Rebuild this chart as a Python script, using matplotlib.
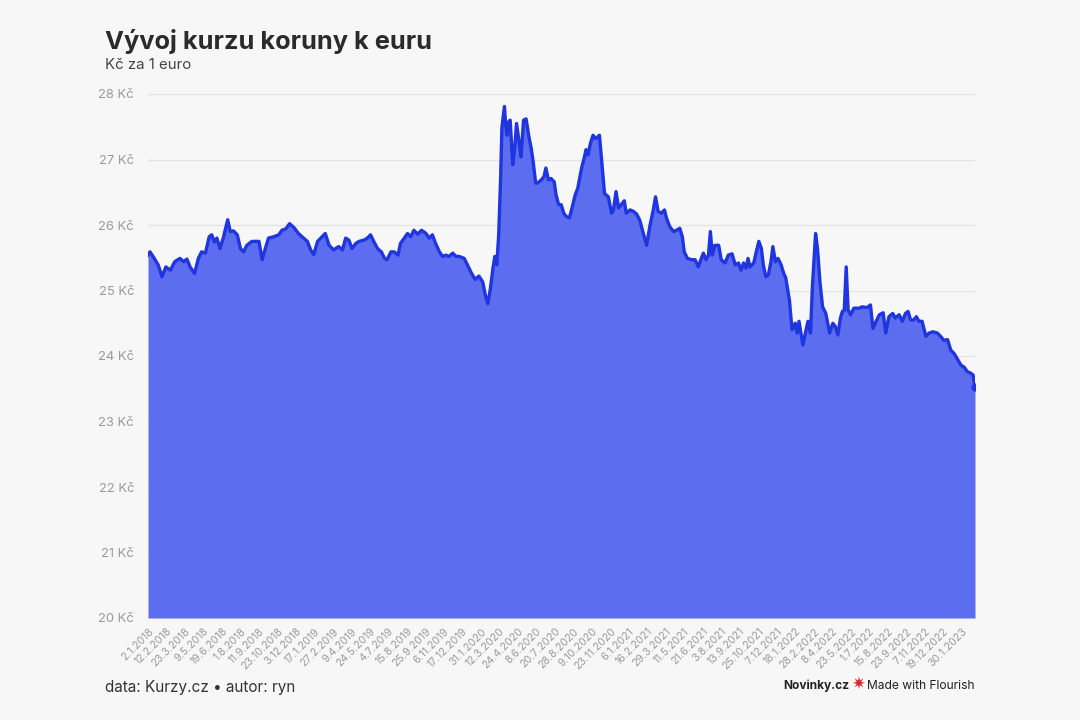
import matplotlib
matplotlib.use("Agg")
import matplotlib.pyplot as plt
import numpy as np

plt.rcParams['font.family'] = ['Inter', 'DejaVu Sans']

title = "Vývoj kurzu koruny k euru"
subtitle = "Kč za 1 euro"
source = "data: Kurzy.cz • autor: ryn"

# trading-day index (0 = 2.1.2018) and EUR/CZK rate
trading_day = [0, 3, 8, 16, 22, 28, 35, 42, 50, 56, 61, 66, 73, 79, 84, 90, 96, 100, 104, 108,
               113, 118, 121, 125, 129, 134, 140, 145, 150, 155, 163, 174, 179, 184, 189, 197,
               205, 210, 216, 222, 229, 236, 244, 250, 255, 260, 266, 273, 278, 284, 291, 299,
               305, 310, 315, 320, 326, 331, 339, 344, 349, 354, 360, 366, 371, 375, 381, 386,
               392, 396, 402, 407, 412, 417, 423, 429, 436, 441, 446, 451, 457, 462, 467, 472,
               478, 483, 488, 496, 501, 507, 513, 519, 525, 529, 533, 537, 541, 544, 547, 550,
               553, 555, 559, 561, 563, 566, 568, 572, 575, 578, 582, 585, 589, 593, 597, 601,
               604, 608, 611, 617, 621, 624, 628, 632, 637, 640, 644, 648, 652, 656, 661, 665,
               670, 674, 680, 684, 687, 690, 694, 698, 702, 706, 708, 713, 716, 722, 727, 730,
               734, 738, 742, 747, 750, 756, 761, 766, 771, 777, 782, 787, 792, 796, 800, 805,
               810, 813, 818, 824, 829, 834, 838, 841, 846, 853, 858, 863, 867, 871, 875, 879,
               882, 885, 889, 895, 899, 905, 910, 916, 921, 926, 930, 934, 938, 941, 944, 950,
               954, 958, 962, 965, 969, 973, 977, 980, 984, 988, 993, 997, 1000, 1006, 1010,
               1015, 1018, 1021, 1027, 1032, 1035, 1039, 1042, 1047, 1050, 1054, 1058, 1063,
               1069, 1074, 1078, 1082, 1086, 1089, 1092, 1095, 1098, 1102, 1107, 1115, 1120,
               1128, 1133, 1137, 1142, 1147, 1153, 1157, 1162, 1168, 1172, 1178, 1183, 1188,
               1192, 1196, 1201, 1205, 1209, 1214, 1220, 1225, 1231, 1238, 1243, 1248, 1254,
               1259, 1264, 1269, 1275, 1280, 1285, 1290, 1294, 1297]

rate = [25.54, 25.59, 25.52, 25.39, 25.21, 25.36, 25.31, 25.44, 25.49, 25.44, 25.48, 25.36,
        25.26, 25.49, 25.59, 25.57, 25.82, 25.85, 25.74, 25.80, 25.64, 25.80, 25.92, 26.08,
        25.90, 25.91, 25.85, 25.64, 25.59, 25.69, 25.75, 25.75, 25.47, 25.64, 25.80, 25.82,
        25.85, 25.92, 25.94, 26.02, 25.96, 25.87, 25.80, 25.75, 25.62, 25.55, 25.75, 25.82,
        25.87, 25.69, 25.62, 25.67, 25.62, 25.80, 25.77, 25.64, 25.72, 25.75, 25.77, 25.80,
        25.85, 25.75, 25.64, 25.59, 25.49, 25.47, 25.59, 25.59, 25.54, 25.72, 25.80, 25.87,
        25.82, 25.92, 25.86, 25.92, 25.87, 25.80, 25.85, 25.72, 25.59, 25.52, 25.54, 25.52,
        25.57, 25.52, 25.52, 25.49, 25.39, 25.27, 25.17, 25.22, 25.13, 24.93, 24.80, 25.03,
        25.34, 25.52, 25.39, 25.85, 26.71, 27.48, 27.81, 27.53, 27.37, 27.58, 27.60, 26.92,
        27.17, 27.55, 27.27, 27.04, 27.60, 27.62, 27.37, 27.17, 26.97, 26.64, 26.64, 26.69,
        26.74, 26.87, 26.69, 26.71, 26.66, 26.46, 26.31, 26.31, 26.18, 26.13, 26.11, 26.26,
        26.46, 26.56, 26.87, 27.02, 27.15, 27.07, 27.25, 27.37, 27.32, 27.35, 27.37, 26.82,
        26.48, 26.43, 26.18, 26.23, 26.51, 26.26, 26.31, 26.37, 26.18, 26.23, 26.21, 26.17,
        26.08, 25.87, 25.69, 25.98, 26.21, 26.43, 26.21, 26.18, 26.23, 26.11, 25.98, 25.90,
        25.92, 25.95, 25.82, 25.59, 25.49, 25.47, 25.47, 25.36, 25.47, 25.57, 25.47, 25.54,
        25.90, 25.54, 25.69, 25.69, 25.47, 25.42, 25.54, 25.56, 25.39, 25.42, 25.31, 25.42,
        25.34, 25.49, 25.36, 25.42, 25.59, 25.75, 25.64, 25.39, 25.21, 25.24, 25.44, 25.67,
        25.44, 25.49, 25.39, 25.26, 25.20, 24.85, 24.40, 24.50, 24.35, 24.53, 24.17, 24.40,
        24.53, 24.35, 25.06, 25.87, 25.64, 25.11, 24.75, 24.65, 24.35, 24.50, 24.45, 24.32,
        24.58, 24.68, 24.70, 25.36, 24.70, 24.63, 24.73, 24.73, 24.75, 24.74, 24.78, 24.42,
        24.53, 24.63, 24.66, 24.35, 24.60, 24.65, 24.58, 24.63, 24.53, 24.65, 24.68, 24.55,
        24.55, 24.60, 24.53, 24.53, 24.30, 24.35, 24.37, 24.35, 24.30, 24.24, 24.25, 24.09,
        24.04, 23.96, 23.86, 23.83, 23.76, 23.74, 23.71, 23.53]

tick_labels = ["2.1.2018", "12.2.2018", "23.3.2018", "9.5.2018", "19.6.2018", "1.8.2018",
               "11.9.2018", "23.10.2018", "3.12.2018", "17.1.2019", "27.2.2019", "9.4.2019",
               "24.5.2019", "4.7.2019", "15.8.2019", "25.9.2019", "6.11.2019", "17.12.2019",
               "31.1.2020", "12.3.2020", "24.4.2020", "8.6.2020", "20.7.2020", "28.8.2020",
               "9.10.2020", "23.11.2020", "6.1.2021", "16.2.2021", "29.3.2021", "11.5.2021",
               "21.6.2021", "3.8.2021", "13.9.2021", "25.10.2021", "7.12.2021", "18.1.2022",
               "28.2.2022", "8.4.2022", "23.5.2022", "1.7.2022", "15.8.2022", "23.9.2022",
               "7.11.2022", "19.12.2022", "30.1.2023"]
tick_step = 29  # trading days between labels

y_ticks = [20, 21, 22, 23, 24, 25, 26, 27, 28]

bg = "#f7f7f7"
fill_color = "#5c6def"
line_color = "#1f35e0"

fig = plt.figure(figsize=(10.8, 7.2), dpi=100, facecolor=bg)
ax = fig.add_axes([148/1080, 102/720, 827/1080, 524/720], facecolor=bg)

x = np.array(trading_day)
y = np.array(rate)
ax.fill_between(x, y_ticks[0], y, color=fill_color, linewidth=0, zorder=2)
ax.plot(x, y, color=line_color, linewidth=2.4, solid_joinstyle='round', zorder=3)
ax.plot(x[-1:], y[-1:], 'o', color=line_color, markersize=5, zorder=4)

ax.set_xlim(x[0], x[-1])
ax.set_ylim(y_ticks[0], y_ticks[-1])
ax.set_yticks(y_ticks)
ax.set_yticklabels([f"{v} Kč" for v in y_ticks])
ax.grid(axis='y', color='#e4e4e4', linewidth=1, zorder=1)
ax.set_xticks([i * tick_step for i in range(len(tick_labels))])
ax.set_xticklabels(tick_labels, rotation=45, ha='right', va='top', rotation_mode='anchor')
ax.tick_params(axis='x', length=0, pad=6, labelsize=7.6, labelcolor='#9a9a9a')
ax.tick_params(axis='y', length=0, pad=10, labelsize=9.4, labelcolor='#9a9a9a')
for s in ax.spines.values():
    s.set_visible(False)

fig.text(105/1080, 1 - 49/720, title, fontsize=18.3, fontweight='bold', color='#2b2b2b')
fig.text(105/1080, 1 - 69/720, subtitle, fontsize=10.8, color='#444444')
fig.text(105/1080, 1 - 692/720, source, fontsize=11, color='#333333')

# branding
fig.text(783/1080, 1 - 689/720, "Novinky.cz", fontsize=8.6, fontweight='bold', color='#222222')
fig.text(858/1080, 1 - 684/720, "✷", fontsize=12, color='#d8262c', ha='center', va='center',
         family=['DejaVu Sans'])
fig.text(867/1080, 1 - 689/720, "Made with Flourish", fontsize=8.7, color='#222222')

fig.savefig("out.png", dpi=100, facecolor=bg)
